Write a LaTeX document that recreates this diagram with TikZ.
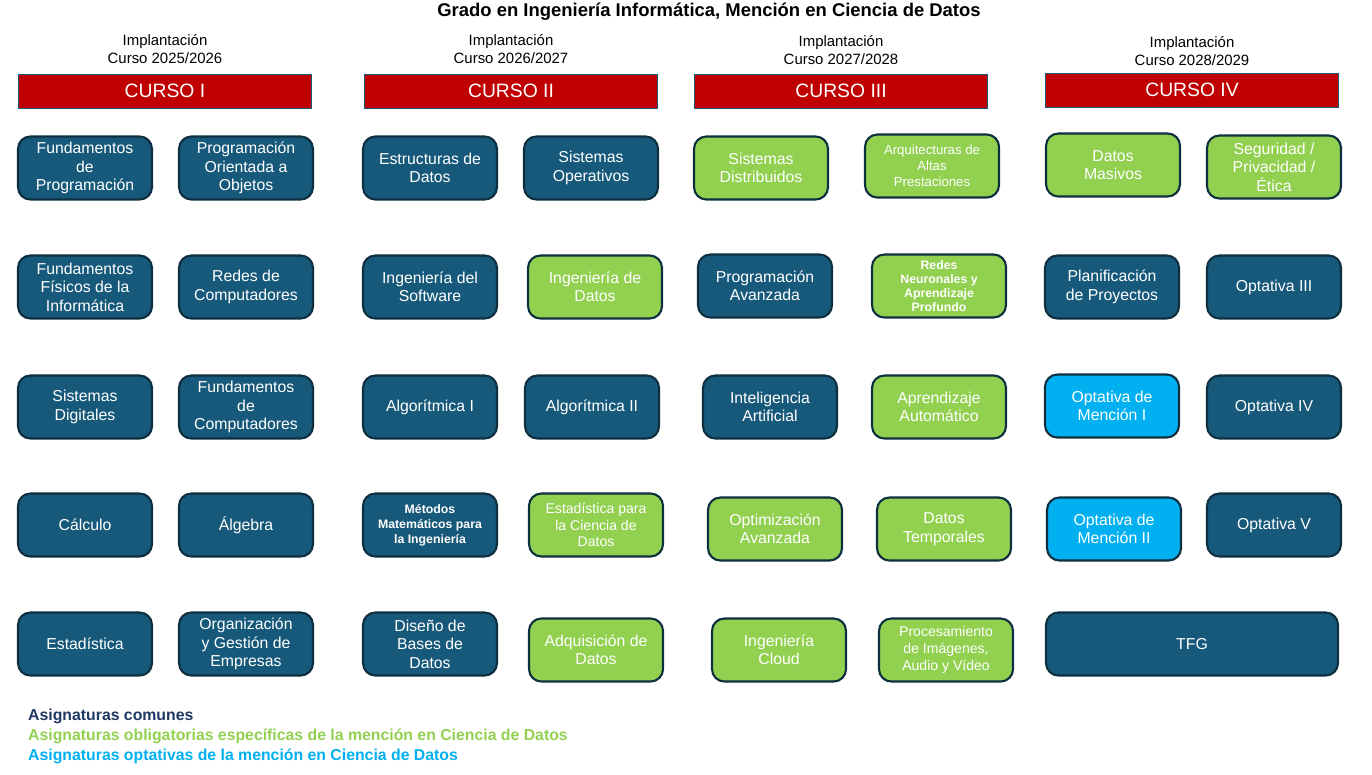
\documentclass[tikz,border=0pt]{standalone}
\usepackage{fontspec}
\setmainfont{Liberation Sans}
\usetikzlibrary{positioning}
\definecolor{ComunAzul}{HTML}{17597A}
\definecolor{BordeOscuro}{HTML}{0E2F3F}
\definecolor{MencionVerde}{HTML}{92D050}
\definecolor{OptativaCian}{HTML}{00B0F0}
\definecolor{CursoRojo}{HTML}{C00000}
\definecolor{LeyendaAzul}{HTML}{1F3864}
\tikzset{
  asig/.style={draw=BordeOscuro, line width=1.2pt, rounded corners=7pt, minimum width=2.68cm, minimum height=1.26cm, align=center, inner sep=1pt, font=\fontsize{9}{10.5}\selectfont},
  comun/.style={asig, fill=ComunAzul, text=white},
  mencion/.style={asig, fill=MencionVerde, text=white},
  optativa/.style={asig, fill=OptativaCian, text=white},
  curso/.style={draw=ComunAzul, fill=CursoRojo, text=white, minimum width=5.86cm, minimum height=0.68cm, font=\fontsize{11}{12}\selectfont},
  implant/.style={align=center, font=\fontsize{8.5}{10}\selectfont},
  leyenda/.style={anchor=west, font=\fontsize{9}{10}\selectfont\bfseries}
}
\begin{document}
\begin{tikzpicture}[x=0.02cm, y=-0.02cm]
\useasboundingbox (0,0) rectangle (1372,774);
% Title
\node[font=\fontsize{10.5}{12}\selectfont\bfseries] (titulo) at (709,12) {Grado en Ingeniería Informática, Mención en Ciencia de Datos};
% Course headers
\node[implant] (imp1) at (165,49) {Implantación\\Curso 2025/2026};
\node[implant] (imp2) at (511,49) {Implantación\\Curso 2026/2027};
\node[implant] (imp3) at (841,50) {Implantación\\Curso 2027/2028};
\node[implant] (imp4) at (1192,51) {Implantación\\Curso 2028/2029};
\node[curso] (c1) at (165,91) {CURSO I};
\node[curso] (c2) at (511,91) {CURSO II};
\node[curso] (c3) at (841,91) {CURSO III};
\node[curso] (c4) at (1192,90) {CURSO IV};
% Curso I
\node[comun] (fprog) at (85,168) {Fundamentos\\de\\Programación};
\node[comun] (poo) at (246,168) {Programación\\Orientada a\\Objetos};
\node[comun] (ffis) at (85,287) {Fundamentos\\Físicos de la\\Informática};
\node[comun] (redes) at (246,287) {Redes de\\Computadores};
\node[comun] (sdig) at (85,407) {Sistemas\\Digitales};
\node[comun] (fcomp) at (246,407) {Fundamentos\\de\\Computadores};
\node[comun] (calc) at (85,525) {Cálculo};
\node[comun] (alg) at (246,525) {Álgebra};
\node[comun] (est) at (85,644) {Estadística};
\node[comun] (oge) at (246,644) {Organización\\y Gestión de\\Empresas};
% Curso II
\node[comun] (edat) at (430,168) {Estructuras de\\Datos};
\node[comun] (sops) at (591,168) {Sistemas\\Operativos};
\node[comun] (isw) at (430,287) {Ingeniería del\\Software};
\node[mencion] (idat) at (595,287) {Ingeniería de\\Datos};
\node[comun] (alg1) at (430,407) {Algorítmica I};
\node[comun] (alg2) at (592,407) {Algorítmica II};
\node[comun, font=\fontsize{7}{8.5}\selectfont\bfseries] (mmat) at (430,525) {Métodos\\Matemáticos para\\la Ingeniería};
\node[mencion, font=\fontsize{8}{9.5}\selectfont] (ecd) at (596,525) {Estadística para\\la Ciencia de\\Datos};
\node[comun] (dbd) at (430,644) {Diseño de\\Bases de\\Datos};
\node[mencion] (adq) at (596,650) {Adquisición de\\Datos};
% Curso III
\node[mencion] (sdist) at (761,168) {Sistemas\\Distribuidos};
\node[mencion, font=\fontsize{7.5}{9}\selectfont] (aap) at (932,166) {Arquitecturas de\\Altas\\Prestaciones};
\node[comun] (pav) at (765,286) {Programación\\Avanzada};
\node[mencion, font=\fontsize{7}{8}\selectfont\bfseries] (rnap) at (939,286) {Redes\\Neuronales y\\Aprendizaje\\Profundo};
\node[comun] (ia) at (770,407) {Inteligencia\\Artificial};
\node[mencion] (aaut) at (939,407) {Aprendizaje\\Automático};
\node[mencion] (opav) at (775,529) {Optimización\\Avanzada};
\node[mencion] (dtem) at (944,529) {Datos\\Temporales};
\node[mencion] (icl) at (779,650) {Ingeniería\\Cloud};
\node[mencion, font=\fontsize{8}{9.5}\selectfont] (pim) at (946,650) {Procesamiento\\de Imágenes,\\Audio y Vídeo};
% Curso IV
\node[mencion] (dmas) at (1113,165) {Datos\\Masivos};
\node[mencion] (spe) at (1274,167) {Seguridad /\\Privacidad /\\Ética};
\node[comun] (plan) at (1112,287) {Planificación\\de Proyectos};
\node[comun] (opt3) at (1274,287) {Optativa III};
\node[optativa] (om1) at (1112,406) {Optativa de\\Mención I};
\node[comun] (opt4) at (1274,407) {Optativa IV};
\node[optativa] (om2) at (1114,529) {Optativa de\\Mención II};
\node[comun] (opt5) at (1274,525) {Optativa V};
\node[comun, minimum width=5.84cm] (tfg) at (1192,644) {TFG};
% Legend
\node[leyenda, text=LeyendaAzul] (ley1) at (22,716) {Asignaturas comunes};
\node[leyenda, text=MencionVerde] (ley2) at (22,736) {Asignaturas obligatorias específicas de la mención en Ciencia de Datos};
\node[leyenda, text=OptativaCian] (ley3) at (22,756) {Asignaturas optativas de la mención en Ciencia de Datos};
\end{tikzpicture}
\end{document}
